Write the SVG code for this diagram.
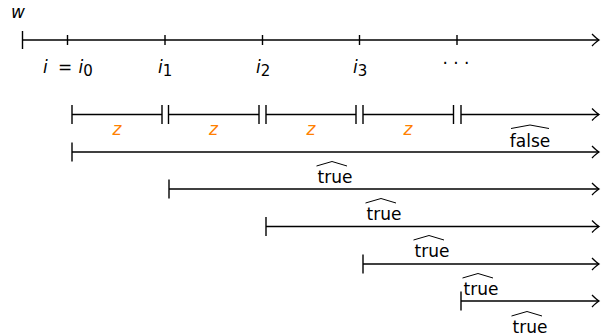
<svg xmlns="http://www.w3.org/2000/svg" width="601" height="336" viewBox="0 0 601 336">
<style>
.ln{stroke:#000;stroke-width:1.4;fill:none}
.ar{marker-end:url(#arr)}
.hat{stroke:#000;stroke-width:1;fill:none;stroke-linejoin:miter}
.t{font-family:"DejaVu Sans",sans-serif;font-size:17px;fill:#000}
.it{font-style:italic}
.sub{font-size:15px}
.z{font-family:"DejaVu Sans",sans-serif;font-size:17px;font-style:italic;fill:#ff8000;text-anchor:middle}
.c{text-anchor:middle}
</style>
<defs>
<marker id="arr" viewBox="-8 -7 10 14" refX="0" refY="0" markerWidth="10" markerHeight="14" markerUnits="userSpaceOnUse" orient="auto">
<path d="M-7,-6 Q-2.5,-1.5 0,0 Q-2.5,1.5 -7,6" fill="none" stroke="#000" stroke-width="1.3"/>
</marker>
</defs>
<g id="axis">
<text class="t it" x="11" y="18">w</text>
<path class="ln ar" d="M22.5,40 H599"/>
<path class="ln" d="M22.5,31 V49 M67.5,35 V45 M165,35 V45 M262.5,35 V45 M359.5,35 V45 M457,35 V45"/>
<text class="t it" x="43" y="73">i</text>
<text class="t c" x="65" y="73">=</text>
<text class="t" x="78.5" y="73"><tspan class="it">i</tspan><tspan class="sub" dy="2.5">0</tspan></text>
<text class="t" x="158" y="73"><tspan class="it">i</tspan><tspan class="sub" dy="2.5">1</tspan></text>
<text class="t" x="256" y="73"><tspan class="it">i</tspan><tspan class="sub" dy="2.5">2</tspan></text>
<text class="t" x="353" y="73"><tspan class="it">i</tspan><tspan class="sub" dy="2.5">3</tspan></text>
<text class="t c" x="456" y="69">· · ·</text>
</g>
<g id="zrow">
<path class="ln" d="M72,114.5 H162 M72,105 V124 M162,105 V124"/>
<path class="ln" d="M168.5,114.5 H259 M168.5,105 V124 M259,105 V124"/>
<path class="ln" d="M266,114.5 H356 M266,105 V124 M356,105 V124"/>
<path class="ln" d="M363,114.5 H453.5 M363,105 V124 M453.5,105 V124"/>
<path class="ln ar" d="M461,114.5 H599"/>
<path class="ln" d="M461,105 V124"/>
<text class="z" x="117" y="135">z</text>
<text class="z" x="213.5" y="135">z</text>
<text class="z" x="311" y="135">z</text>
<text class="z" x="408" y="135">z</text>
<text class="t c" x="530" y="147">false</text>
<path class="hat" d="M511,128.5 L530,125 L549,128.5"/>
</g>
<g id="connectors">
<path class="ln ar" d="M72,152 H599"/>
<path class="ln" d="M72,142.5 V161.5"/>
<path class="ln ar" d="M169,189 H599"/>
<path class="ln" d="M169,179.5 V198.5"/>
<path class="ln ar" d="M266,226.5 H599"/>
<path class="ln" d="M266,217 V236"/>
<path class="ln ar" d="M363,264 H599"/>
<path class="ln" d="M363,254.5 V273.5"/>
<path class="ln ar" d="M461,301 H599"/>
<path class="ln" d="M461,291.5 V310.5"/>
</g>
<g id="labels">
<text class="t c" x="335" y="183">true</text>
<path class="hat" d="M316.5,166 L332,161.5 L347,166"/>
<text class="t c" x="384" y="220">true</text>
<path class="hat" d="M365.5,203 L381,198.5 L396,203"/>
<text class="t c" x="432" y="257">true</text>
<path class="hat" d="M413.5,240 L429,235.5 L444,240"/>
<text class="t c" x="481" y="295">true</text>
<path class="hat" d="M462.5,278 L478,273.5 L493,278"/>
<text class="t c" x="530" y="333">true</text>
<path class="hat" d="M511.5,316 L527,311.5 L542,316"/>
</g>
</svg>
